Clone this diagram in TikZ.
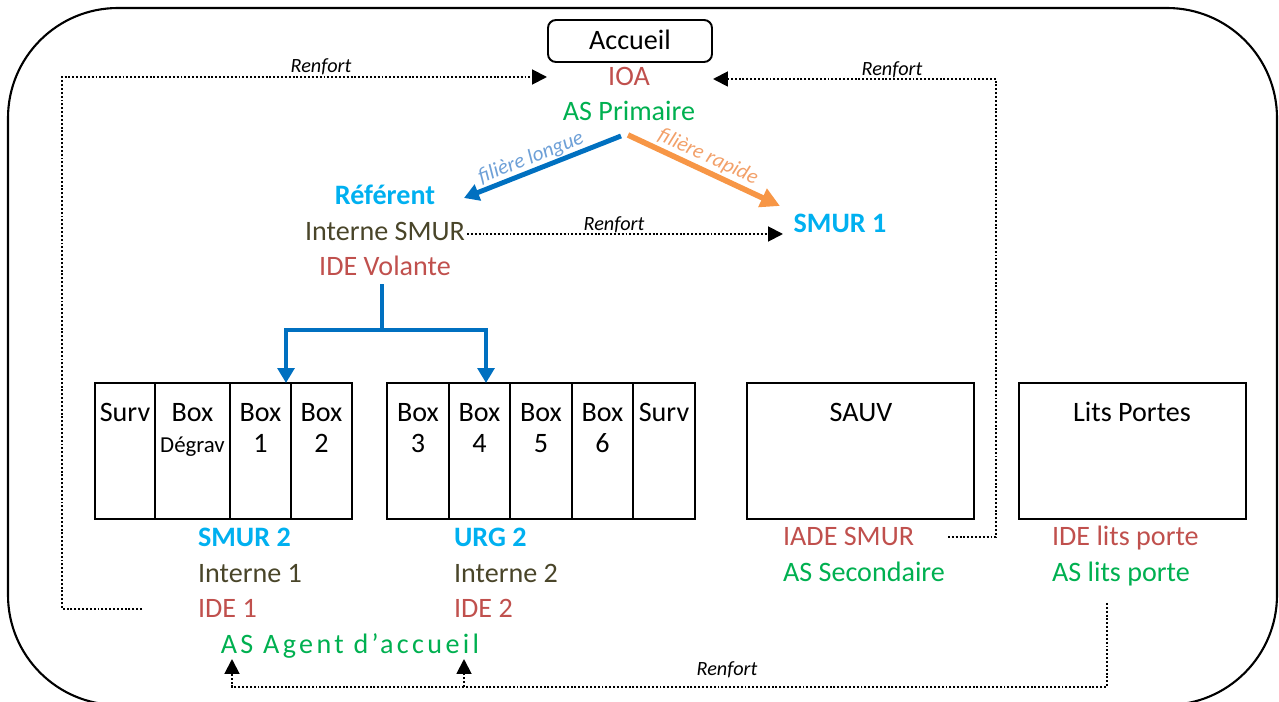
\documentclass[tikz,border=0pt]{standalone}
\usepackage{fontspec}
\setmainfont{Carlito}
\usetikzlibrary{arrows.meta}
\definecolor{ioared}{RGB}{192,80,77}
\definecolor{asgreen}{RGB}{0,176,80}
\definecolor{smurcyan}{RGB}{0,176,240}
\definecolor{internbrown}{RGB}{73,69,41}
\definecolor{longblue}{RGB}{0,112,192}
\definecolor{rapidorange}{RGB}{247,150,70}
\definecolor{longlabel}{RGB}{110,160,215}
\definecolor{rapidlabel}{RGB}{242,160,105}
\begin{document}
\begin{tikzpicture}[x=0.02cm,y=-0.02cm,
  staff/.style={font=\fontsize{16}{19}\selectfont,inner sep=1pt,text height=13.5pt,text depth=3.5pt},
  chef/.style={staff,font=\fontsize{16}{19}\selectfont\bfseries,text=smurcyan},
  renf/.style={font=\fontsize{11.5}{14}\selectfont\itshape,inner sep=1pt},
  filiere/.style={font=\fontsize{12}{14}\selectfont\itshape,inner sep=0pt},
  renfline/.style={line width=1.1pt,dash pattern=on 1.1pt off 1.1pt,-{Triangle[length=8.5pt,width=8.5pt]}},
  bluearrow/.style={longblue,line width=2.8pt,-{Triangle[length=8.5pt,width=9.5pt]}},
  room/.style={line width=1pt}]
  \useasboundingbox (0,0) rectangle (1279,702);
  \draw[line width=1.2pt,rounded corners=2.2cm] (8,8) rectangle (1277,705);%
  % accueil
  \node[staff,draw,line width=1.1pt,rounded corners=4.5pt,minimum width=3.28cm,minimum height=0.84cm] (acc) at (630,41) {Accueil};
  \node[staff,text=ioared] (ioa) at (629,77) {IOA};
  \node[staff,text=asgreen] (asp) at (629,112) {AS Primaire};
  % referent et smur 1
  \node[chef] (ref) at (385,196) {Référent};
  \node[staff,text=internbrown] (ism) at (385,232) {Interne SMUR};
  \node[staff,text=ioared] (idev) at (385,267) {IDE Volante};
  \node[chef] (smur1) at (840,224) {SMUR 1};
  % filieres
  \coordinate (flA) at (621,136);
  \coordinate (flB) at (464,198);
  \coordinate (frA) at (628,135);
  \coordinate (frB) at (780,206);
  \draw[bluearrow] (flA) -- (flB);
  \draw[rapidorange,line width=3.2pt,-{Triangle[length=11pt,width=11pt]}] (frA) -- (frB);
  \node[filiere,text=longlabel,rotate=21.5] (fl) at (531,158) {filière longue};
  \node[filiere,text=rapidlabel,rotate=-25] (fr) at (708,157) {filière rapide};
  % boxes
  \foreach \xa/\xb/\ta/\tb [count=\i] in {95/155/Surv/{},155/230/Box/{\fontsize{13}{15}\selectfont Dégrav},230/291/Box/1,291/352/Box/2}{
    \draw[room] (\xa,383) rectangle (\xb,519);
    \node[staff] (ta\i) at ({(\xa+\xb)/2},413) {\ta};
    \node[staff] (tb\i) at ({(\xa+\xb)/2},444) {\tb};
  }
  \foreach \xa/\xb/\ta/\tb [count=\i] in {387/449/Box/3,449/510/Box/4,510/572/Box/5,572/633/Box/6,633/695/Surv/{}}{
    \draw[room] (\xa,383) rectangle (\xb,519);
    \node[staff] (ua\i) at ({(\xa+\xb)/2},413) {\ta};
    \node[staff] (ub\i) at ({(\xa+\xb)/2},444) {\tb};
  }
  \draw[room] (747,383) rectangle (974,519);
  \node[staff] (sauv) at (861,413) {SAUV};
  \draw[room] (1019,383) rectangle (1246,519);
  \node[staff] (lits) at (1132,413) {Lits Portes};
  % equipes
  \node[chef,anchor=west] (smur2) at (196,538) {SMUR 2};
  \node[staff,anchor=west,text=internbrown] (int1) at (196,574) {Interne 1};
  \node[staff,anchor=west,text=ioared] (ide1) at (196,609) {IDE 1};
  \node[chef,anchor=west] (urg2) at (452,538) {URG 2};
  \node[staff,anchor=west,text=internbrown] (int2) at (452,574) {Interne 2};
  \node[staff,anchor=west,text=ioared] (ide2) at (452,609) {IDE 2};
  \node[staff,text=asgreen,font=\fontsize{16}{19}\selectfont\addfontfeature{LetterSpace=12}] (agent) at (350,645) {AS Agent d’accueil};
  \node[staff,anchor=west,text=ioared] (iade) at (781,537) {IADE SMUR};
  \node[staff,anchor=west,text=asgreen] (ass) at (781,573) {AS Secondaire};
  \node[staff,anchor=west,text=ioared] (idelp) at (1050,537) {IDE lits porte};
  \node[staff,anchor=west,text=asgreen] (aslp) at (1050,573) {AS lits porte};
  % referent vers les boxes
  \coordinate (split) at (382,330);
  \coordinate (b1top) at (286,383);
  \coordinate (b4top) at (486,383);
  \draw[longblue,line width=2.8pt] (idev.south -| split) -- (split);
  \draw[bluearrow] (split) -| (b1top);
  \draw[bluearrow] (split) -| (b4top);
  % renforts
  \coordinate (ioaL) at (547,77);
  \coordinate (ioaR) at (713,79);
  \coordinate (ide1L) at (142,609);
  \coordinate (iadeR) at (948,537);
  \coordinate (s1L) at (783,234);
  \coordinate (lpS) at (1107,603);
  \coordinate (bot) at (1107,687);
  \coordinate (ag1) at (232,659);
  \coordinate (ag2) at (464,659);
  \draw[renfline] (ide1L) -- ++(-80,0) |- (ioaL);
  \draw[renfline] (iadeR) -- ++(48,0) |- (ioaR);
  \draw[renfline] (ism.east |- s1L) -- (s1L);
  \draw[renfline] (lpS) -- (bot) -| (ag1);
  \draw[renfline] (ag2 |- bot) -- (ag2);
  \node[renf] (rf1) at (321,67) {Renfort};
  \node[renf] (rf2) at (892,70) {Renfort};
  \node[renf] (rf3) at (614,225) {Renfort};
  \node[renf] (rf4) at (727,670) {Renfort};
\end{tikzpicture}
\end{document}
